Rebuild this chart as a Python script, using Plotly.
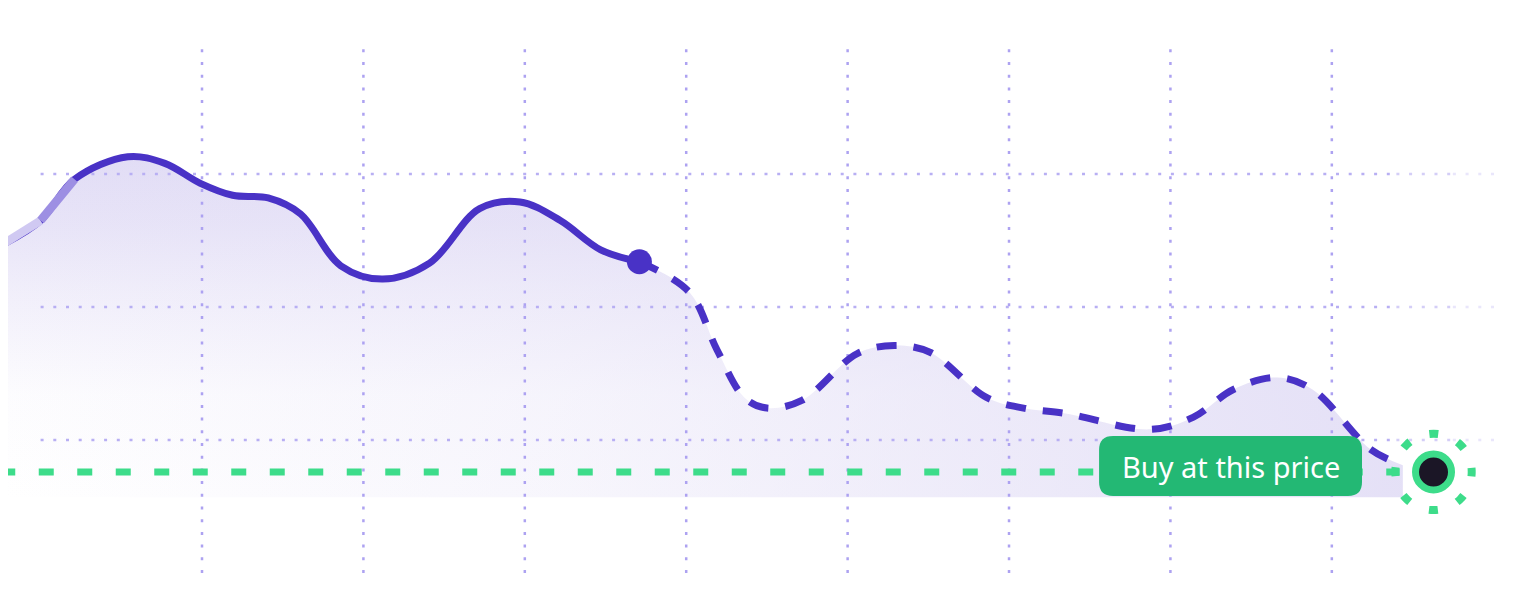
import plotly.graph_objects as go

# price history (solid) and projected path (dashed), x in days, y in price units
hist_x = [-0.25, 0.00, 0.21, 0.54, 0.77, 0.99, 1.19, 1.41, 1.61, 1.86, 2.12, 2.41, 2.72,
          2.97, 3.22, 3.47, 3.71]
hist_y = [2.46, 2.65, 2.96, 3.13, 3.08, 2.93, 2.84, 2.82, 2.70, 2.31, 2.21, 2.33, 2.74,
          2.79, 2.65, 2.43, 2.34]

fcst_x = [3.71, 4.02, 4.19, 4.36, 4.50, 4.72, 5.06, 5.29, 5.51, 5.86, 6.09, 6.35, 6.87,
          7.14, 7.39, 7.66, 7.88, 8.24, 8.44]
fcst_y = [2.34, 2.11, 1.68, 1.32, 1.24, 1.30, 1.65, 1.71, 1.66, 1.32, 1.24, 1.20, 1.08,
          1.17, 1.38, 1.47, 1.38, 0.93, 0.81]

base_y = 0.57
buy_price = 0.76
buy_x = 8.63
buy_label = "Buy at this price"

grid_x = [1, 2, 3, 4, 5, 6, 7, 8]
grid_y = [1, 2, 3]
grid_top = 4.0
grid_end = 9.02

PURPLE = "#4932c6"
GREEN = "#3ddc8a"
GREEN_DARK = "#23b874"
LAV = "224,219,245"

fig = go.Figure()

area_x = hist_x + fcst_x[1:]
area_y = hist_y + fcst_y[1:]

# two overlaid gradient fills give the diagonal fade
fades = [
    ("vertical", [[0, f"rgba({LAV},0)"], [0.3, f"rgba({LAV},0.08)"], [0.6, f"rgba({LAV},0.45)"],
                  [0.8, f"rgba({LAV},0.75)"], [1, f"rgba({LAV},0.95)"]]),
    ("horizontal", [[0, f"rgba({LAV},0)"], [0.4, f"rgba({LAV},0.25)"], [1, f"rgba({LAV},0.85)"]]),
]
for kind, scale in fades:
    fig.add_trace(go.Scatter(x=[area_x[0], area_x[-1]], y=[base_y, base_y], mode="lines",
                             line=dict(width=0), hoverinfo="skip"))
    fig.add_trace(go.Scatter(x=area_x, y=area_y, mode="lines", line=dict(width=0, shape="spline"),
                             fill="tonexty", fillgradient=dict(type=kind, colorscale=scale),
                             hoverinfo="skip"))

# dotted grid
vx, vy = [], []
for g in grid_x:
    vx += [g, g, None]
    vy += [0, grid_top, None]
fig.add_trace(go.Scatter(x=vx, y=vy, mode="lines", hoverinfo="skip",
                         line=dict(color="#ada2f1", width=2.5, dash="3px,9.7px")))

for x0, x1, op in [(0, 8.4, 1.0), (8.4, 8.75, 0.6), (8.75, grid_end, 0.3)]:
    hx, hy = [], []
    for g in grid_y:
        hx += [x0, x1, None]
        hy += [g, g, None]
    fig.add_trace(go.Scatter(x=hx, y=hy, mode="lines", hoverinfo="skip", opacity=op,
                             line=dict(color="#b8aff3", width=2.5, dash="3px,9.7px")))

# buy price line
fig.add_trace(go.Scatter(x=[hist_x[0], 8.42], y=[buy_price, buy_price], mode="lines",
                         hoverinfo="skip", line=dict(color=GREEN, width=7, dash="15px,23.5px")))

# projected path
fig.add_trace(go.Scatter(x=fcst_x, y=fcst_y, mode="lines", hoverinfo="skip",
                         line=dict(color=PURPLE, width=7, shape="spline", dash="20px,17px")))

# history, fading in at the left
fig.add_trace(go.Scatter(x=hist_x, y=hist_y, mode="lines", hoverinfo="skip",
                         line=dict(color=PURPLE, width=7, shape="spline")))
for i, col in [(0, "#d0c9f2"), (1, "#9d8fe3")]:
    fig.add_trace(go.Scatter(x=hist_x[i:i + 2], y=hist_y[i:i + 2], mode="lines",
                             hoverinfo="skip", line=dict(color=col, width=8.5)))
fig.add_trace(go.Scatter(x=[hist_x[-1]], y=[hist_y[-1]], mode="markers", hoverinfo="skip",
                         marker=dict(color=PURPLE, size=25)))

# buy point
fig.add_trace(go.Scatter(x=[buy_x], y=[buy_price], mode="markers", hoverinfo="skip",
                         marker=dict(color="#1b1626", size=36, line=dict(color=GREEN, width=7))))

# label box with rounded corners
bx0, bx1 = 6.558, 8.187
by0, by1 = buy_price - 0.181, buy_price + 0.27
rx, ry = 0.087, 0.105
box_path = (
    f"M {bx0 + rx},{by0} L {bx1 - rx},{by0} Q {bx1},{by0} {bx1},{by0 + ry} "
    f"L {bx1},{by1 - ry} Q {bx1},{by1} {bx1 - rx},{by1} "
    f"L {bx0 + rx},{by1} Q {bx0},{by1} {bx0},{by1 - ry} "
    f"L {bx0},{by0 + ry} Q {bx0},{by0} {bx0 + rx},{by0} Z"
)

fig.update_layout(
    width=1528,
    height=606,
    margin=dict(l=0, r=0, t=0, b=0),
    paper_bgcolor="white",
    plot_bgcolor="white",
    showlegend=False,
    hovermode=False,
    xaxis=dict(visible=False, range=[-0.202, 9.265], fixedrange=True),
    yaxis=dict(visible=False, range=[-0.3083, 4.2481], fixedrange=True),
    shapes=[
        dict(type="path", path=box_path, fillcolor=GREEN_DARK, line=dict(width=0), layer="above"),
        dict(type="circle", xref="x", yref="y", xsizemode="pixel", ysizemode="pixel",
             xanchor=buy_x, yanchor=buy_price, x0=-38.2, x1=38.2, y0=-38.2, y1=38.2,
             line=dict(color=GREEN, width=8, dash="4.5px,21px,4.5px,0px"), layer="above"),
    ],
    annotations=[
        dict(x=(bx0 + bx1) / 2, y=(by0 + by1) / 2, text=buy_label, showarrow=False,
             font=dict(family="Noto Sans", size=29, color="white")),
    ],
)

fig.write_html("out.html")
